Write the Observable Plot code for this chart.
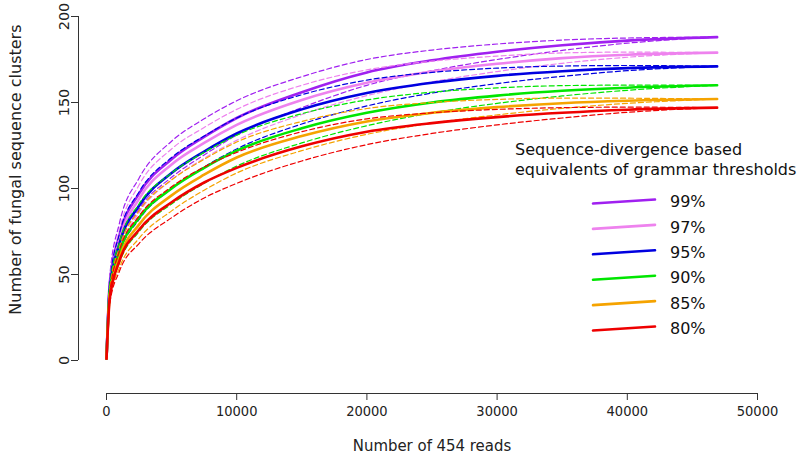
<!DOCTYPE html>
<html><head><meta charset="utf-8">
<script src="https://cdn.jsdelivr.net/npm/d3@7"></script>
<script src="https://cdn.jsdelivr.net/npm/@observablehq/plot@0.6"></script>
<style>
body{margin:0;background:#fff}
svg{display:block;overflow:visible}
</style>
</head><body><div id="chart"></div>
<script>
// ---- data ----
const reads = [1, 250, 1000, 2500, 5000, 7500, 10000, 15000, 20000, 25000, 30000, 35000, 40000, 46900];
const thresholds = ["99%", "97%", "95%", "90%", "85%", "80%"];
const colors = ["#A020F0", "#EE82EE", "#0000E0", "#00E600", "#F5A300", "#EE0000"];

const mean99  = [1, 45, 73, 97, 117, 130, 141, 156, 167.5, 174.5, 179.5, 183.3, 186, 188];
const upper99 = [1, 49, 80, 106, 127.5, 140.5, 151, 165, 175, 180.5, 184, 186.3, 187.5, 188];
const lower99 = [1, 41, 66, 88, 106.5, 119.5, 131, 147, 160, 168.5, 175, 180.3, 184.5, 188];

const mean97  = [1, 43, 70, 94, 114, 126.5, 137, 151.5, 161.5, 168, 172.5, 175.8, 177.8, 179];
const upper97 = [1, 46, 76, 102, 123, 135.5, 146, 160, 169, 174, 177, 178.8, 179.3, 179];
const lower97 = [1, 40, 64, 86, 105, 117.5, 128, 143, 154, 162, 168, 172.8, 176.3, 179];

const mean95  = [1, 42, 68, 90, 109, 121.5, 132, 146, 155.5, 161.5, 165.5, 168.2, 170, 171];
const upper95 = [1, 45, 74, 98, 118, 130.5, 141, 154.5, 163, 167.5, 170, 171.2, 171.5, 171];
const lower95 = [1, 39, 62, 82, 100, 112.5, 123, 137.5, 148, 155.5, 161, 165.2, 168.5, 171];

const mean90  = [1, 40, 63, 83, 100, 112, 122, 135, 144, 150, 154, 156.8, 158.6, 160];
const upper90 = [1, 43, 69, 91, 109, 121, 131, 143.5, 151.5, 156, 158.5, 159.8, 160.1, 160];
const lower90 = [1, 37, 57, 75, 91, 103, 113, 126.5, 136.5, 144, 149.5, 153.8, 157.1, 160];

const mean85  = [1, 38, 60, 79, 96, 108, 118, 130.5, 139, 144, 147.3, 149.6, 151, 152];
const upper85 = [1, 41, 66, 87, 105, 117, 127, 139, 146.5, 150, 151.8, 152.6, 152.5, 152];
const lower85 = [1, 35, 54, 71, 87, 99, 109, 122, 131.5, 138, 142.8, 146.6, 149.5, 152];

const mean80  = [1, 36, 58, 76, 92, 103.5, 112, 124.5, 133, 138, 141.5, 144, 145.8, 147];
const upper80 = [1, 39, 64, 84, 101, 112.5, 121, 133, 140.5, 144, 146, 147, 147.3, 147];
const lower80 = [1, 33, 52, 68, 83, 94.5, 103, 116, 125.5, 132, 137, 141, 144.3, 147];

const xTicks = [0, 10000, 20000, 30000, 40000, 50000];
const yTicks = [0, 50, 100, 150, 200];
const xLabel = "Number of 454 reads";
const yLabel = "Number of fungal sequence clusters";
const legendTitle = ["Sequence-divergence based", "equivalents of grammar thresholds"];

// ---- build rows ----
const seriesDefs = [
  [mean99, upper99, lower99], [mean97, upper97, lower97], [mean95, upper95, lower95],
  [mean90, upper90, lower90], [mean85, upper85, lower85], [mean80, upper80, lower80]
];

const W = 799, H = 455;
const mL = 78, mR = 42, mT = 16, mB = 62, insL = 28, insB = 33;
const sans = "DejaVu Sans, sans-serif";
const narrow = "'Liberation Sans Narrow', 'Arial Narrow', 'DejaVu Sans Condensed', sans-serif";

const marks = [];
seriesDefs.forEach(([m, u, l], i) => {
  const col = colors[i];
  for (const arr of [u, l]) {
    marks.push(Plot.line(reads.map((r, j) => ({reads: r, v: arr[j]})), {
      x: "reads", y: "v", stroke: col, strokeWidth: 1.2, strokeDasharray: "5,3", curve: "monotone-x"
    }));
  }
  marks.push(Plot.line(reads.map((r, j) => ({reads: r, v: m[j]})), {
    x: "reads", y: "v", stroke: col, strokeWidth: 2.6, curve: "monotone-x"
  }));
});

// axes
marks.push(Plot.ruleY([0], {x1: xTicks[0], x2: xTicks[xTicks.length - 1], dy: insB, stroke: "#333", strokeWidth: 1}));
marks.push(Plot.ruleX([0], {y1: yTicks[0], y2: yTicks[yTicks.length - 1], dx: -insL, stroke: "#333", strokeWidth: 1}));
marks.push(Plot.axisX(xTicks, {anchor: "bottom", tickSize: 7, tickPadding: 5, tickFormat: d3.format("d"),
  fontSize: 14.5, fontFamily: narrow, stroke: "#333", fill: "#222", label: null}));
marks.push(Plot.axisY(yTicks, {anchor: "left", tickSize: 7, tickPadding: 3, tickRotate: -90,
  fontSize: 14.5, fontFamily: sans, stroke: "#333", fill: "#222", label: null}));
// axis titles
marks.push(Plot.text([xLabel], {x: 25000, frameAnchor: "bottom", dy: 52, text: d => d,
  fontSize: 16.6, fontFamily: narrow, fill: "#222", lineAnchor: "middle", textAnchor: "middle"}));
marks.push(Plot.text([yLabel], {y: 111, frameAnchor: "left", dx: -63, text: d => d, rotate: -90,
  fontSize: 16, fontFamily: sans, fill: "#222", lineAnchor: "middle", textAnchor: "middle"}));

const chart = Plot.plot({
  width: W, height: H,
  marginLeft: mL, marginRight: mR, marginTop: mT, marginBottom: mB,
  insetLeft: insL, insetBottom: insB, insetTop: 0, insetRight: 0,
  x: {domain: [0, 50000], axis: null},
  y: {domain: [0, 200], axis: null},
  style: {background: "#fff", overflow: "visible"},
  marks
});
document.getElementById("chart").appendChild(chart);

// legend (drawn into the same svg)
const svg = d3.select(chart);
const lg = svg.append("g").attr("font-family", sans).attr("fill", "#111").attr("text-anchor", "start");
lg.selectAll("text.t").data(legendTitle).join("text")
  .attr("x", 515).attr("y", (d, i) => 155 + i * 20).attr("font-size", 16).text(d => d);
thresholds.forEach((t, i) => {
  const yc = 201.5 + i * 25.4;
  lg.append("line").attr("x1", 593).attr("x2", 655)
    .attr("y1", yc + 2).attr("y2", yc - 2)
    .attr("stroke", colors[i]).attr("stroke-width", 2.6).attr("stroke-linecap", "round");
  lg.append("text").attr("x", 670).attr("y", yc).attr("dy", "0.35em")
    .attr("font-size", 16).text(t);
});
</script>
</body></html>
